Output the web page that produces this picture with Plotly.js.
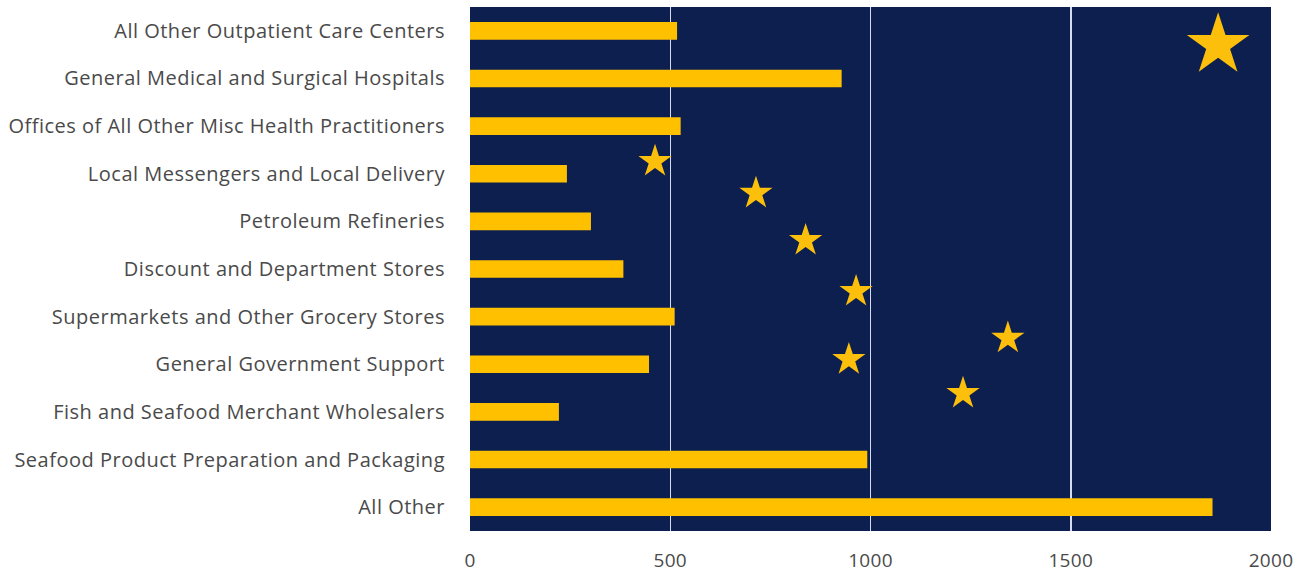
<!DOCTYPE html>
<html>
<head>
<meta charset="utf-8">
<script src="https://cdn.plot.ly/plotly-3.0.1.min.js"></script>
<style>html,body{margin:0;padding:0;background:#fff;}#chart{width:1312px;height:576px;}
.ytick text{letter-spacing:0.5px;}
.xtick text{letter-spacing:0.3px;}
</style>
</head>
<body>
<div id="chart"></div>
<script>
const categories = [
  "All Other Outpatient Care Centers",
  "General Medical and Surgical Hospitals",
  "Offices of All Other Misc Health Practitioners",
  "Local Messengers and Local Delivery",
  "Petroleum Refineries",
  "Discount and Department Stores",
  "Supermarkets and Other Grocery Stores",
  "General Government Support",
  "Fish and Seafood Merchant Wholesalers",
  "Seafood Product Preparation and Packaging",
  "All Other"
];
const values = [517, 928, 526, 242, 302, 383, 511, 447, 222, 992, 1854];
const xTicks = [0, 500, 1000, 1500, 2000];

// decorative stars (Alaska flag), x in data units, y in category-index units
const starX = [1868, 462, 714, 838, 964, 1343, 946, 1231];
const starY = [0.30, 2.74, 3.41, 4.40, 5.47, 6.45, 6.90, 7.61];
const starSize = [47, 25, 25, 25, 25, 25, 25, 25];

const idx = categories.map((c, i) => i);

const bars = {
  type: 'bar', orientation: 'h',
  x: values, y: idx,
  width: 0.37,
  marker: {color: '#ffc000'},
  hoverinfo: 'x+text', text: categories, textposition: 'none'
};
const stars = {
  type: 'scatter', mode: 'markers',
  x: starX, y: starY,
  marker: {symbol: 'star', size: starSize, color: '#fcbf0c', opacity: 1, line: {width: 0}},
  hoverinfo: 'skip'
};

const layout = {
  width: 1312, height: 576,
  margin: {l: 470, r: 41, t: 7, b: 45},
  paper_bgcolor: '#ffffff',
  plot_bgcolor: '#0d1f4e',
  showlegend: false,
  font: {family: '"Open Sans", sans-serif', color: '#4a4a4a', size: 20},
  xaxis: {
    range: [0, 2000],
    tickvals: xTicks, ticktext: xTicks.map(String),
    showgrid: true, gridcolor: '#d6dcef', gridwidth: 1.5,
    zeroline: false, showline: false, ticks: '',
    ticklabelstandoff: 16,
    fixedrange: true,
    tickfont: {size: 19, color: '#4a4a4a'}
  },
  yaxis: {
    range: [categories.length - 0.5, -0.5],
    tickvals: idx, ticktext: categories,
    showgrid: false, zeroline: false, showline: false, ticks: '',
    ticklabelstandoff: 24,
    fixedrange: true,
    tickfont: {size: 20, color: '#4a4a4a'}
  }
};

Plotly.newPlot('chart', [bars, stars], layout, {displayModeBar: false, staticPlot: true});
</script>
</body>
</html>
